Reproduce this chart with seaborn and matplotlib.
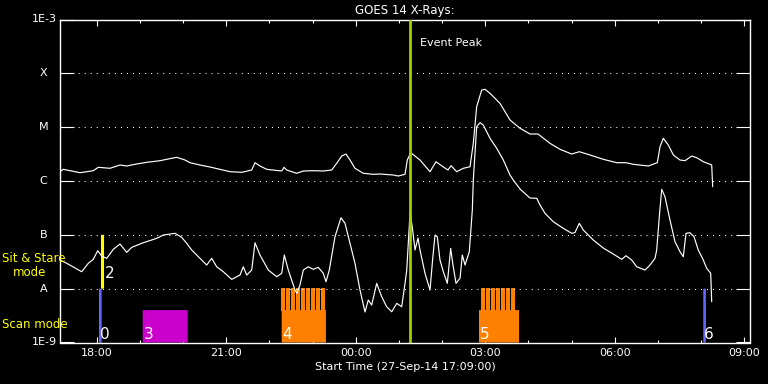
import matplotlib
matplotlib.use("Agg")
import matplotlib.pyplot as plt
import seaborn as sns
import numpy as np
import pandas as pd
from matplotlib.ticker import FixedLocator, NullLocator, FuncFormatter

# ---------------- data (time in hours since 27-Sep-14 00:00) ----------------
long_time = [17.150, 17.226, 17.305, 17.613, 17.921, 18.037, 18.308, 18.540, 18.695, 18.927,
             19.158, 19.466, 19.622, 19.853, 20.046, 20.161, 20.393, 20.624, 21.088, 21.359,
             21.591, 21.667, 21.783, 21.938, 22.286, 22.339, 22.401, 22.633, 22.786, 23.017,
             23.249, 23.444, 23.560, 23.675, 23.775, 23.868, 23.983, 24.176, 24.407, 24.563,
             24.871, 24.987, 25.142, 25.195, 25.274, 25.489, 25.721, 25.860, 26.022, 26.138,
             26.207, 26.339, 26.492, 26.647, 26.724, 26.802, 26.918, 26.995, 27.111, 27.342,
             27.574, 27.806, 28.037, 28.222, 28.500, 28.732, 29.003, 29.179, 29.427, 29.735,
             30.046, 30.261, 30.430, 30.778, 30.986, 31.049, 31.125, 31.241, 31.357, 31.512,
             31.628, 31.783, 31.899, 32.052, 32.246, 32.269]
long_logflux = [-5.827, -5.783, -5.796, -5.846, -5.809, -5.746, -5.764, -5.703, -5.721, -5.684,
                -5.653, -5.623, -5.597, -5.560, -5.610, -5.660, -5.703, -5.740, -5.827, -5.839,
                -5.796, -5.660, -5.721, -5.783, -5.814, -5.746, -5.796, -5.857, -5.814, -5.809,
                -5.814, -5.796, -5.671, -5.536, -5.499, -5.610, -5.764, -5.857, -5.876, -5.870,
                -5.889, -5.907, -5.876, -5.610, -5.474, -5.610, -5.827, -5.642, -5.735, -5.796,
                -5.716, -5.827, -5.764, -5.735, -5.300, -4.620, -4.310, -4.297, -4.371, -4.557,
                -4.867, -5.021, -5.127, -5.127, -5.300, -5.411, -5.499, -5.456, -5.517, -5.597,
                -5.660, -5.660, -5.690, -5.721, -5.660, -5.363, -5.207, -5.331, -5.517, -5.610,
                -5.623, -5.536, -5.567, -5.642, -5.703, -6.106]

short_time = [17.150, 17.305, 17.653, 17.806, 17.921, 18.023, 18.116, 18.232, 18.385, 18.540,
              18.695, 18.811, 19.080, 19.390, 19.543, 19.814, 19.969, 20.085, 20.201, 20.317,
              20.548, 20.664, 20.780, 20.933, 21.127, 21.320, 21.396, 21.475, 21.591, 21.667,
              21.783, 21.975, 22.170, 22.286, 22.346, 22.438, 22.594, 22.633, 22.709, 22.786,
              22.902, 23.017, 23.133, 23.249, 23.312, 23.388, 23.520, 23.659, 23.752, 23.868,
              23.983, 24.099, 24.215, 24.291, 24.370, 24.486, 24.602, 24.718, 24.834, 24.950,
              25.065, 25.142, 25.182, 25.223, 25.258, 25.304, 25.374, 25.443, 25.489, 25.605,
              25.721, 25.784, 25.837, 25.890, 25.952, 26.029, 26.122, 26.200, 26.247, 26.323,
              26.416, 26.469, 26.532, 26.631, 26.664, 26.701, 26.724, 26.802, 26.879, 26.955,
              27.111, 27.266, 27.419, 27.574, 27.650, 27.806, 28.037, 28.193, 28.269, 28.385,
              28.577, 28.809, 29.003, 29.080, 29.179, 29.272, 29.504, 29.735, 29.967, 30.161,
              30.261, 30.393, 30.509, 30.701, 30.817, 30.933, 30.972, 31.032, 31.088, 31.164,
              31.280, 31.396, 31.512, 31.588, 31.651, 31.743, 31.836, 31.935, 32.052, 32.130,
              32.223, 32.246]
short_logflux = [-7.468, -7.529, -7.685, -7.529, -7.455, -7.295, -7.394, -7.437, -7.269, -7.171,
                 -7.325, -7.232, -7.147, -7.065, -7.004, -6.972, -7.046, -7.158, -7.282, -7.375,
                 -7.561, -7.437, -7.593, -7.685, -7.827, -7.747, -7.593, -7.747, -7.654, -7.147,
                 -7.375, -7.654, -7.778, -7.715, -7.375, -7.654, -8.025, -8.087, -7.933, -7.654,
                 -7.593, -7.641, -7.604, -7.715, -7.871, -7.654, -7.035, -6.682, -6.786, -7.158,
                 -7.529, -8.025, -8.434, -8.211, -8.304, -7.901, -8.150, -8.336, -8.429, -8.273,
                 -8.336, -7.901, -7.654, -7.097, -6.595, -6.818, -7.282, -7.059, -7.282, -7.715,
                 -8.025, -7.437, -7.004, -7.035, -7.468, -7.685, -7.901, -7.251, -7.529, -7.901,
                 -7.808, -7.375, -7.561, -7.314, -6.942, -6.539, -5.982, -4.992, -4.917, -4.960,
                 -5.207, -5.393, -5.610, -5.889, -5.982, -6.149, -6.316, -6.322, -6.446, -6.601,
                 -6.757, -6.879, -6.972, -6.957, -6.786, -6.911, -7.097, -7.245, -7.357, -7.455,
                 -7.388, -7.468, -7.593, -7.654, -7.561, -7.437, -7.282, -6.664, -6.155, -6.292,
                 -6.725, -7.128, -7.314, -7.407, -6.972, -6.961, -7.035, -7.282, -7.468, -7.622,
                 -7.715, -8.243]

event_peak_time = 25.258

# observing blocks
block_labels = ["0", "2", "3", "4", "5", "6"]
block_start = [18.053, 18.100, 19.066, 22.285, 26.856, 32.050]
block_end = [18.115, 18.170, 20.108, 23.310, 27.783, 32.112]
block_mode = ["scan", "sitstare", "scan", "scan", "scan", "scan"]

# individual rasters inside blocks 4 and 5
raster4_start = [22.286, 22.399, 22.515, 22.629, 22.742, 22.858, 22.971, 23.085, 23.198]
raster5_start = [26.918, 27.034, 27.150, 27.266, 27.381, 27.497, 27.613]
raster_duration = 0.075

class_ticks = [1e-9, 1e-8, 1e-7, 1e-6, 1e-5, 1e-4, 1e-3]
class_labels = ["1E-9", "A", "B", "C", "M", "X", "1E-3"]
hour_major = [18, 21, 24, 27, 30, 33]
hour_minor = list(range(18, 34))

# ---------------- styling ----------------
block_color = ["#6464ff", "#ffff00", "#cc00cc", "#ff8000", "#ff8000", "#6464ff"]
block_bottom = [1e-9, 1e-8, 1e-9, 1e-9, 1e-9, 1e-9]
block_top = [1e-8, 1e-7, 4.0e-9, 4.0e-9, 4.0e-9, 1e-8]

sns.set_theme(style="dark", rc={
    "figure.facecolor": "black", "axes.facecolor": "black",
    "axes.edgecolor": "white", "text.color": "white",
    "axes.labelcolor": "white", "xtick.color": "white", "ytick.color": "white",
})
plt.rcParams["font.family"] = ["DejaVu Sans"]

fig = plt.figure(figsize=(7.68, 3.84), dpi=100)
ax = fig.add_axes([60 / 768, 1 - 342.5 / 384, 690 / 768, 323 / 384])
ax.set_facecolor("black")

xmin, xmax = 17.15, 17.15 + 690 / 43.17
ax.set_xlim(xmin, xmax)
ax.set_yscale("log")
ax.set_ylim(1e-9, 1e-3)

# blocks
for lab, s, e, col, b, t in zip(block_labels, block_start, block_end, block_color, block_bottom, block_top):
    bars = ax.bar(s, t - b, width=e - s, bottom=b, align="edge", color=col, linewidth=0, zorder=1)
    for p in bars:
        p.set_snap(False)
for rs in (raster4_start, raster5_start):
    bars = ax.bar(rs, [1e-8 - 4e-9] * len(rs), width=raster_duration, bottom=4e-9, align="edge",
                  color="#ff8000", linewidth=0, zorder=1)
    for p in bars:
        p.set_snap(False)
        p.set_antialiased(False)

# digits
for lab, s, mode in zip(block_labels, block_start, block_mode):
    if mode == "sitstare":
        ax.annotate(lab, xy=(s, 1.58e-8), xytext=(3, 0), textcoords="offset points",
                    color="white", fontsize=11, va="baseline", ha="left", zorder=4)
    else:
        ax.annotate(lab, xy=(s, 1.16e-9), xytext=(0.7, 0), textcoords="offset points",
                    color="white", fontsize=11, va="baseline", ha="left", zorder=4)

# curves
df = pd.concat([
    pd.DataFrame({"time": long_time, "flux": np.power(10.0, long_logflux), "channel": "long"}),
    pd.DataFrame({"time": short_time, "flux": np.power(10.0, short_logflux), "channel": "short"}),
])
sns.lineplot(data=df, x="time", y="flux", hue="channel", palette=["white", "white"],
             estimator=None, sort=False, legend=False, linewidth=0.85, ax=ax, zorder=3)

# event peak
ax.axvline(event_peak_time, color="#a0d000", linewidth=2.0, zorder=5)
ax.annotate("Event Peak", xy=(event_peak_time, 0.927), xycoords=("data", "axes fraction"),
            xytext=(7, 0), textcoords="offset points", color="white", fontsize=8, va="center")

# grid
ax.grid(False)
for lvl in class_ticks[1:-1]:
    ax.axhline(lvl, color="white", linewidth=0.75, linestyle=(0, (1, 4.8)), zorder=2)

# y ticks
ax.yaxis.set_major_locator(FixedLocator(class_ticks))
ax.yaxis.set_minor_locator(NullLocator())
ax.set_yticklabels([""] * len(class_ticks))
ax.tick_params(axis="y", which="major", direction="in", length=10, width=0.8, left=True, right=True)
ytr = ax.get_yaxis_transform()
for v, lab in zip(class_ticks, class_labels):
    if lab.startswith("1E"):
        ax.text(-0.004, v, lab, transform=ytr, ha="right", va="center", fontsize=8, color="white")
    else:
        ax.text(-0.0239, v, lab, transform=ytr, ha="center", va="center", fontsize=8, color="white")

# x ticks
ax.xaxis.set_major_locator(FixedLocator(hour_major))
ax.xaxis.set_minor_locator(FixedLocator(hour_minor))
ax.xaxis.set_major_formatter(FuncFormatter(lambda v, p: "%02d:00" % (int(round(v)) % 24)))
ax.tick_params(axis="x", which="major", direction="in", length=4.3, width=0.8, top=True, bottom=True,
               pad=4, labelsize=8)
ax.tick_params(axis="x", which="minor", direction="in", length=2.4, width=0.8, top=True, bottom=True)

for sp in ax.spines.values():
    sp.set_color("white")
    sp.set_linewidth(1.0)

ax.set_xlabel("Start Time (27-Sep-14 17:09:00)", fontsize=8, labelpad=3, color="white")
ax.set_ylabel("")
ax.set_title("GOES 14 X-Rays:", fontsize=8.5, pad=4, color="white")

# mode labels
fig.text(2 / 768, 1 - 259 / 384, "Sit & Stare", color="#ffff00", fontsize=8.5, ha="left", va="center")
fig.text(13 / 768, 1 - 272 / 384, "mode", color="#ffff00", fontsize=8.5, ha="left", va="center")
fig.text(2 / 768, 1 - 324 / 384, "Scan mode", color="#ffff00", fontsize=8.5, ha="left", va="center")

fig.savefig("out.png", dpi=100, facecolor="black")
